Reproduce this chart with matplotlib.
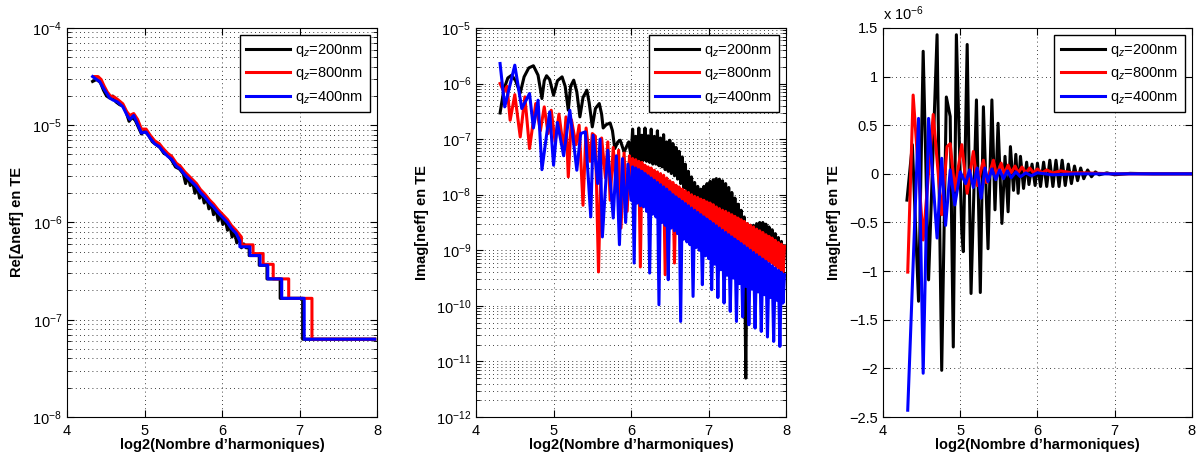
import numpy as np
import matplotlib
matplotlib.use('Agg')
import matplotlib.pyplot as plt
from matplotlib.ticker import LogLocator, NullFormatter, FuncFormatter, MultipleLocator

plt.rcParams['font.family'] = ['Liberation Sans', 'DejaVu Sans']
plt.rcParams['mathtext.fontset'] = 'custom'
plt.rcParams['mathtext.rm'] = 'Liberation Sans'
plt.rcParams['mathtext.it'] = 'Liberation Sans:italic'
plt.rcParams['mathtext.bf'] = 'Liberation Sans:bold'

#Donnees : x = log2(nombre d'harmoniques)
#------------->
labels = ['q$_z$=200nm', 'q$_z$=800nm', 'q$_z$=400nm']
colors = ['k', 'r', 'b']

# Panneau 1 : Re[dneff], valeurs en log10
re_200_x = [4.33, 4.38, 4.43, 4.47, 4.51, 4.55, 4.59, 4.63, 4.68, 4.72, 4.76, 4.80, 4.84, 4.88,
            4.92, 4.96, 5.00, 5.05, 5.10, 5.15, 5.20, 5.25, 5.30, 5.35, 5.40, 5.45, 5.50, 5.53,
            5.56, 5.59, 5.62, 5.65, 5.68, 5.71, 5.74, 5.77, 5.80, 5.83, 5.86, 5.89, 5.92, 5.95,
            5.98, 6.01, 6.04, 6.07, 6.10, 6.13, 6.16, 6.19, 6.22, 6.25, 6.28, 6.31, 6.35, 6.35,
            6.48, 6.48, 6.58, 6.58, 6.75, 6.75, 7.04, 7.04, 7.97]
re_200_lg = [-4.55, -4.53, -4.56, -4.64, -4.70, -4.72, -4.70, -4.76, -4.79, -4.80, -4.86, -4.96,
             -4.92, -4.95, -5.02, -5.09, -5.06, -5.10, -5.17, -5.20, -5.23, -5.29, -5.31, -5.36,
             -5.43, -5.45, -5.50, -5.60, -5.52, -5.62, -5.58, -5.70, -5.63, -5.75, -5.69, -5.80,
             -5.74, -5.86, -5.80, -5.92, -5.86, -5.98, -5.91, -6.02, -5.97, -6.08, -6.03, -6.15,
             -6.09, -6.21, -6.15, -6.26, -6.22, -6.26, -6.26, -6.34, -6.34, -6.44, -6.44, -6.58,
             -6.58, -6.78, -6.78, -7.20, -7.20]

re_800_x = [4.35, 4.40, 4.44, 4.48, 4.52, 4.56, 4.61, 4.66, 4.72, 4.77, 4.81, 4.86, 4.91, 4.96,
            5.02, 5.07, 5.13, 5.19, 5.24, 5.30, 5.35, 5.41, 5.46, 5.52, 5.57, 5.62, 5.67, 5.72,
            5.78, 5.84, 5.89, 5.95, 6.01, 6.07, 6.12, 6.18, 6.25, 6.25, 6.40, 6.40, 6.53, 6.53,
            6.66, 6.66, 6.86, 6.86, 7.16, 7.16, 7.97]
re_800_lg = [-4.50, -4.50, -4.53, -4.60, -4.66, -4.70, -4.71, -4.74, -4.78, -4.86, -4.90, -4.88,
             -4.94, -5.04, -5.04, -5.10, -5.16, -5.19, -5.24, -5.29, -5.32, -5.39, -5.42, -5.48,
             -5.52, -5.56, -5.60, -5.66, -5.71, -5.77, -5.81, -5.87, -5.92, -5.97, -6.03, -6.08,
             -6.15, -6.23, -6.23, -6.32, -6.32, -6.43, -6.43, -6.58, -6.58, -6.78, -6.78, -7.20,
             -7.20]

re_400_x = [4.33, 4.38, 4.42, 4.47, 4.51, 4.55, 4.59, 4.65, 4.72, 4.77, 4.81, 4.86, 4.90, 4.96,
            5.02, 5.07, 5.13, 5.19, 5.24, 5.30, 5.35, 5.41, 5.46, 5.52, 5.57, 5.62, 5.67, 5.72,
            5.78, 5.84, 5.89, 5.95, 6.01, 6.07, 6.12, 6.18, 6.23, 6.23, 6.36, 6.36, 6.49, 6.49,
            6.59, 6.59, 6.77, 6.77, 7.06, 7.06, 7.97]
re_400_lg = [-4.50, -4.53, -4.55, -4.62, -4.67, -4.72, -4.74, -4.76, -4.81, -4.89, -4.94, -4.90,
             -4.97, -5.08, -5.07, -5.13, -5.19, -5.22, -5.27, -5.32, -5.35, -5.42, -5.45, -5.51,
             -5.55, -5.59, -5.63, -5.69, -5.74, -5.80, -5.84, -5.90, -5.95, -6.00, -6.06, -6.11,
             -6.19, -6.25, -6.25, -6.34, -6.34, -6.44, -6.44, -6.58, -6.58, -6.78, -6.78, -7.20,
             -7.20]

# Panneau 2 : Imag[neff], valeurs en log10
# debut (x < 6) propre a chaque courbe, puis grille serree commune de 6.00 a 7.98
dense_x = [6.00, 6.02, 6.04, 6.06, 6.08, 6.10, 6.12, 6.14, 6.16, 6.18, 6.20, 6.22, 6.24, 6.26,
           6.28, 6.30, 6.32, 6.34, 6.36, 6.38, 6.40, 6.42, 6.44, 6.46, 6.48, 6.50, 6.52, 6.54,
           6.56, 6.58, 6.60, 6.62, 6.64, 6.66, 6.68, 6.70, 6.72, 6.74, 6.76, 6.78, 6.80, 6.82,
           6.84, 6.86, 6.88, 6.90, 6.92, 6.94, 6.96, 6.98, 7.00, 7.02, 7.04, 7.06, 7.08, 7.10,
           7.12, 7.14, 7.16, 7.18, 7.20, 7.22, 7.24, 7.26, 7.28, 7.30, 7.32, 7.34, 7.36, 7.38,
           7.40, 7.42, 7.44, 7.46, 7.48, 7.50, 7.52, 7.54, 7.56, 7.58, 7.60, 7.62, 7.64, 7.66,
           7.68, 7.70, 7.72, 7.74, 7.76, 7.78, 7.80, 7.82, 7.84, 7.86, 7.88, 7.90, 7.92, 7.94,
           7.96, 7.98]

im_200_x = [4.31, 4.36, 4.41, 4.46, 4.51, 4.57, 4.62, 4.68, 4.74, 4.80, 4.85, 4.88, 4.91, 4.95,
            5.00, 5.05, 5.11, 5.15, 5.19, 5.22, 5.26, 5.30, 5.34, 5.38, 5.43, 5.46, 5.50, 5.54,
            5.59, 5.62, 5.64, 5.68, 5.73, 5.76, 5.79, 5.83, 5.86, 5.91, 5.97]
im_200_lg = [-6.53, -6.10, -5.90, -5.85, -5.95, -6.17, -5.88, -5.72, -5.68, -5.85, -6.27, -5.95,
             -5.86, -5.93, -6.21, -5.95, -5.88, -6.05, -6.48, -6.05, -5.94, -6.15, -6.60, -6.25,
             -6.12, -6.35, -6.78, -6.45, -6.36, -6.55, -6.80, -6.74, -6.71, -6.85, -7.17, -7.05,
             -7.02, -7.23, -7.05]
im_200_dense = [-7.32, -6.82, -7.35, -6.95, -7.38, -6.80, -7.40, -6.93, -7.38, -6.80,
                -7.40, -6.94, -7.42, -6.82, -7.45, -6.95, -7.45, -6.85, -7.48, -6.98,
                -7.50, -6.92, -7.55, -7.05, -7.58, -7.02, -7.62, -7.08, -7.66, -7.15,
                -7.72, -7.22, -7.80, -7.32, -7.88, -7.45, -7.98, -7.58, -8.10, -7.68,
                -8.20, -7.78, -8.28, -7.85, -8.33, -7.90, -8.32, -7.85, -8.30, -7.80,
                -8.28, -7.76, -8.26, -7.73, -8.25, -7.71, -8.25, -7.72, -8.27, -7.75,
                -8.30, -7.80, -8.35, -7.87, -8.42, -7.96, -8.50, -8.06, -8.58, -8.17,
                -8.68, -8.28, -8.78, -8.40, -11.30, -8.52, -8.95, -8.55, -9.00, -8.55,
                -9.02, -8.52, -9.02, -8.50, -9.05, -8.50, -9.08, -8.53, -9.12, -8.58,
                -9.18, -8.63, -9.24, -8.70, -9.30, -8.77, -9.38, -8.84, -9.45, -8.92]

im_800_x = [4.31, 4.36, 4.40, 4.44, 4.50, 4.57, 4.63, 4.69, 4.77, 4.83, 4.88, 4.93, 4.97, 5.02,
            5.07, 5.13, 5.16, 5.19, 5.23, 5.29, 5.33, 5.38, 5.42, 5.47, 5.50, 5.54, 5.58, 5.62,
            5.67, 5.70, 5.73, 5.77, 5.81, 5.84, 5.87, 5.91, 5.95, 5.98]
im_800_lg = [-6.00, -6.15, -6.05, -6.66, -6.20, -6.96, -6.24, -7.17, -6.36, -6.85, -6.42, -6.90,
             -6.48, -7.05, -6.55, -7.20, -6.60, -7.68, -6.65, -7.10, -6.75, -8.19, -6.80, -7.40,
             -6.90, -6.95, -9.39, -6.98, -7.70, -7.05, -8.10, -7.15, -7.90, -7.20, -8.60, -7.25,
             -8.30, -7.30]
im_800_dense = [-7.90, -7.35, -7.95, -7.37, -8.00, -7.40, -9.30, -7.42, -8.00, -7.47,
                -8.05, -7.50, -8.55, -7.52, -8.10, -7.56, -8.12, -7.59, -8.70, -7.62,
                -8.20, -7.65, -9.44, -7.70, -8.25, -7.75, -8.30, -7.78, -9.23, -7.83,
                -8.38, -7.86, -8.40, -7.90, -8.45, -7.93, -8.45, -7.96, -8.50, -8.00,
                -8.53, -8.03, -8.55, -8.05, -8.58, -8.08, -8.60, -8.10, -8.62, -8.13,
                -8.65, -8.15, -8.68, -8.18, -8.70, -8.22, -8.73, -8.25, -8.75, -8.28,
                -8.78, -8.30, -8.80, -8.33, -8.83, -8.36, -8.86, -8.39, -8.89, -8.42,
                -8.92, -8.45, -8.95, -8.48, -8.98, -8.52, -9.02, -8.55, -9.05, -8.58,
                -9.08, -8.62, -9.11, -8.65, -9.14, -8.68, -9.17, -8.72, -9.20, -8.75,
                -9.23, -8.78, -9.27, -8.82, -9.31, -8.86, -9.35, -8.89, -9.39, -8.93]

im_400_x = [4.31, 4.37, 4.50, 4.59, 4.69, 4.74, 4.80, 4.85, 4.95, 5.00, 5.05, 5.13, 5.21, 5.30,
            5.35, 5.41, 5.48, 5.51, 5.57, 5.60, 5.63, 5.70, 5.77, 5.81, 5.85, 5.89, 5.93, 5.96]
im_400_lg = [-5.64, -6.42, -5.67, -6.45, -6.18, -6.80, -6.30, -7.55, -6.51, -7.47, -6.70, -7.30,
             -6.48, -7.56, -6.90, -6.87, -8.40, -6.93, -7.80, -7.00, -8.76, -7.20, -8.42, -7.30,
             -8.90, -7.35, -8.50, -7.45]
im_400_dense = [-8.10, -7.50, -9.23, -7.52, -8.15, -7.55, -8.20, -7.58, -8.22, -7.62,
                -8.30, -7.66, -9.41, -7.70, -8.35, -7.74, -8.40, -7.78, -9.98, -7.82,
                -8.50, -7.86, -8.55, -7.90, -9.53, -7.95, -8.60, -8.00, -8.65, -8.04,
                -8.70, -8.08, -10.28, -8.12, -8.80, -8.16, -8.85, -8.20, -8.90, -8.24,
                -9.83, -8.28, -8.95, -8.32, -9.00, -8.36, -9.62, -8.40, -9.10, -8.44,
                -9.15, -8.48, -9.71, -8.52, -9.25, -8.56, -9.85, -8.60, -9.35, -8.64,
                -9.95, -8.68, -9.45, -8.72, -10.10, -8.76, -9.50, -8.80, -10.28, -8.84,
                -9.60, -8.88, -10.20, -8.92, -9.65, -8.96, -10.34, -9.00, -9.70, -9.04,
                -10.40, -9.08, -9.75, -9.12, -10.46, -9.16, -9.80, -9.20, -10.56, -9.24,
                -9.85, -9.28, -10.64, -9.32, -9.90, -9.36, -10.73, -9.40, -9.95, -9.44]

# Panneau 3 : Imag[neff] lineaire, en unites de 1e-6
lin_200_x = [4.31, 4.38, 4.46, 4.52, 4.59, 4.70, 4.76, 4.82, 4.87, 4.91, 4.95, 5.02, 5.04, 5.09,
             5.14, 5.21, 5.26, 5.30, 5.36, 5.41, 5.45, 5.49, 5.54, 5.58, 5.62, 5.65, 5.69, 5.72,
             5.75, 5.78, 5.82, 5.86, 5.89, 5.93, 5.97, 6.00, 6.04, 6.08, 6.12, 6.16, 6.20, 6.24,
             6.28, 6.32, 6.36, 6.40, 6.44, 6.48, 6.52, 6.56, 6.60, 6.65, 6.70, 6.75, 6.80, 6.90,
             7.00, 7.20, 7.50, 8.00]
lin_200_y = [-0.27, 0.30, -1.31, 1.26, -1.09, 1.43, -2.02, 0.79, 0.59, -1.78, 1.43, -0.60, -0.80,
             1.33, -1.23, 0.76, -1.22, 0.69, -0.77, 0.76, -0.37, 0.52, -0.51, 0.18, -0.39, 0.28,
             -0.17, 0.20, -0.20, 0.18, -0.15, 0.12, -0.11, 0.10, -0.12, 0.11, -0.13, 0.12, -0.13,
             0.14, -0.13, 0.14, -0.13, 0.14, -0.12, 0.10, -0.10, 0.08, -0.07, 0.06, -0.05, 0.04,
             -0.03, 0.02, -0.01, 0.01, -0.01, 0.005, 0.0, 0.0]

lin_800_x = [4.32, 4.39, 4.52, 4.65, 4.76, 4.83, 4.87, 4.93, 5.02, 5.09, 5.17, 5.22, 5.30, 5.34,
             5.43, 5.47, 5.53, 5.57, 5.62, 5.66, 5.71, 5.75, 5.80, 5.85, 5.90, 5.95, 6.00, 6.06,
             6.12, 6.20, 6.30, 6.45, 6.60, 7.00, 8.00]
lin_800_y = [-1.01, 0.81, -0.68, 0.61, -0.42, 0.28, 0.31, -0.17, 0.30, -0.20, 0.23, -0.12, 0.14,
             -0.09, 0.14, -0.02, 0.11, 0.00, 0.09, 0.01, 0.08, 0.01, 0.07, 0.01, 0.06, 0.01, 0.05,
             0.01, 0.04, 0.01, 0.03, 0.01, 0.01, 0.0, 0.0]

lin_400_x = [4.32, 4.46, 4.52, 4.59, 4.70, 4.76, 4.81, 4.87, 4.93, 5.00, 5.07, 5.12, 5.17, 5.22,
             5.27, 5.32, 5.36, 5.41, 5.46, 5.51, 5.56, 5.61, 5.66, 5.72, 5.78, 5.85, 5.92, 6.00,
             6.20, 6.50, 8.00]
lin_400_y = [-2.43, 0.57, -2.05, 0.57, -0.66, 0.16, -0.53, 0.04, -0.32, 0.02, -0.10, 0.04, -0.14,
             0.06, -0.25, 0.06, -0.08, 0.05, -0.06, 0.04, -0.05, 0.03, -0.04, 0.02, -0.03, 0.01,
             -0.02, 0.01, -0.01, 0.0, 0.0]
#-------------<

fs = 10.5
fig = plt.figure(figsize=(11.97, 4.61), dpi=100)
ax1 = fig.add_axes([0.056, 0.0954, 0.259, 0.844])
ax2 = fig.add_axes([0.3977, 0.0954, 0.259, 0.844])
ax3 = fig.add_axes([0.7377, 0.0954, 0.258, 0.844])

grid_style = dict(color='k', linestyle=(0, (1, 4)), linewidth=0.6)


def style_axes(ax):
    ax.set_xlim(4, 8)
    ax.xaxis.set_major_locator(MultipleLocator(1))
    ax.tick_params(which='both', direction='in', top=True, right=True, labelsize=fs)
    ax.tick_params(which='major', length=5)
    ax.tick_params(which='minor', length=3)
    ax.tick_params(axis='x', pad=5)
    ax.grid(True, which='major', **grid_style)
    for sp in ax.spines.values():
        sp.set_linewidth(0.8)
    ax.set_xlabel('log2(Nombre d\u2019harmoniques)', fontsize=fs, fontweight='bold', labelpad=0)


def add_legend(ax):
    leg = ax.legend(loc='upper right', fontsize=fs, frameon=True, fancybox=False,
                    edgecolor='k', framealpha=1, handlelength=3.0, handletextpad=0.35,
                    borderaxespad=0.5, labelspacing=0.45, borderpad=0.45)
    leg.get_frame().set_linewidth(1.0)


def log_y(ax, lo, hi):
    ax.set_yscale('log')
    ax.set_ylim(10.0 ** lo, 10.0 ** hi)
    ax.yaxis.set_major_locator(LogLocator(base=10, numticks=20))
    ax.yaxis.set_minor_locator(LogLocator(base=10, subs=np.arange(2, 10), numticks=20))
    ax.yaxis.set_minor_formatter(NullFormatter())
    ax.grid(True, which='minor', axis='y', **grid_style)


#Graphique 1
#------------->
ax1.plot(re_200_x, 10.0 ** np.array(re_200_lg), color=colors[0], lw=2.2, label=labels[0])
ax1.plot(re_800_x, 10.0 ** np.array(re_800_lg), color=colors[1], lw=2.2, label=labels[1])
ax1.plot(re_400_x, 10.0 ** np.array(re_400_lg), color=colors[2], lw=2.2, label=labels[2])
log_y(ax1, -8, -4)
style_axes(ax1)
ax1.set_ylabel('Re[\u0394neff] en TE', fontsize=fs, fontweight='bold')
ax1.yaxis.set_label_coords(-0.139, 0.5)
add_legend(ax1)
#-------------<

#Graphique 2
#------------->
ax2.plot(im_200_x + dense_x, 10.0 ** np.array(im_200_lg + im_200_dense),
         color=colors[0], lw=2.2, label=labels[0])
ax2.plot(im_800_x + dense_x, 10.0 ** np.array(im_800_lg + im_800_dense),
         color=colors[1], lw=2.2, label=labels[1])
ax2.plot(im_400_x + dense_x, 10.0 ** np.array(im_400_lg + im_400_dense),
         color=colors[2], lw=2.2, label=labels[2])
log_y(ax2, -12, -5)
style_axes(ax2)
ax2.set_ylabel('Imag[neff] en TE', fontsize=fs, fontweight='bold')
ax2.yaxis.set_label_coords(-0.152, 0.5)
add_legend(ax2)
#-------------<

#Graphique 3
#------------->
ax3.plot(lin_200_x, lin_200_y, color=colors[0], lw=2.2, label=labels[0])
ax3.plot(lin_800_x, lin_800_y, color=colors[1], lw=2.2, label=labels[1])
ax3.plot(lin_400_x, lin_400_y, color=colors[2], lw=2.2, label=labels[2])
ax3.set_ylim(-2.5, 1.5)
ax3.yaxis.set_major_locator(MultipleLocator(0.5))
ax3.yaxis.set_major_formatter(FuncFormatter(lambda v, p: ('%g' % v).replace('-', '\u2212')))
style_axes(ax3)
ax3.set_ylabel('Imag[neff] en TE', fontsize=fs, fontweight='bold')
ax3.yaxis.set_label_coords(-0.136, 0.5)
ax3.text(0.0, 1.012, 'x 10$^{-6}$', transform=ax3.transAxes, fontsize=fs, ha='left', va='bottom')
add_legend(ax3)
#-------------<

plt.savefig('out.png', dpi=100)
